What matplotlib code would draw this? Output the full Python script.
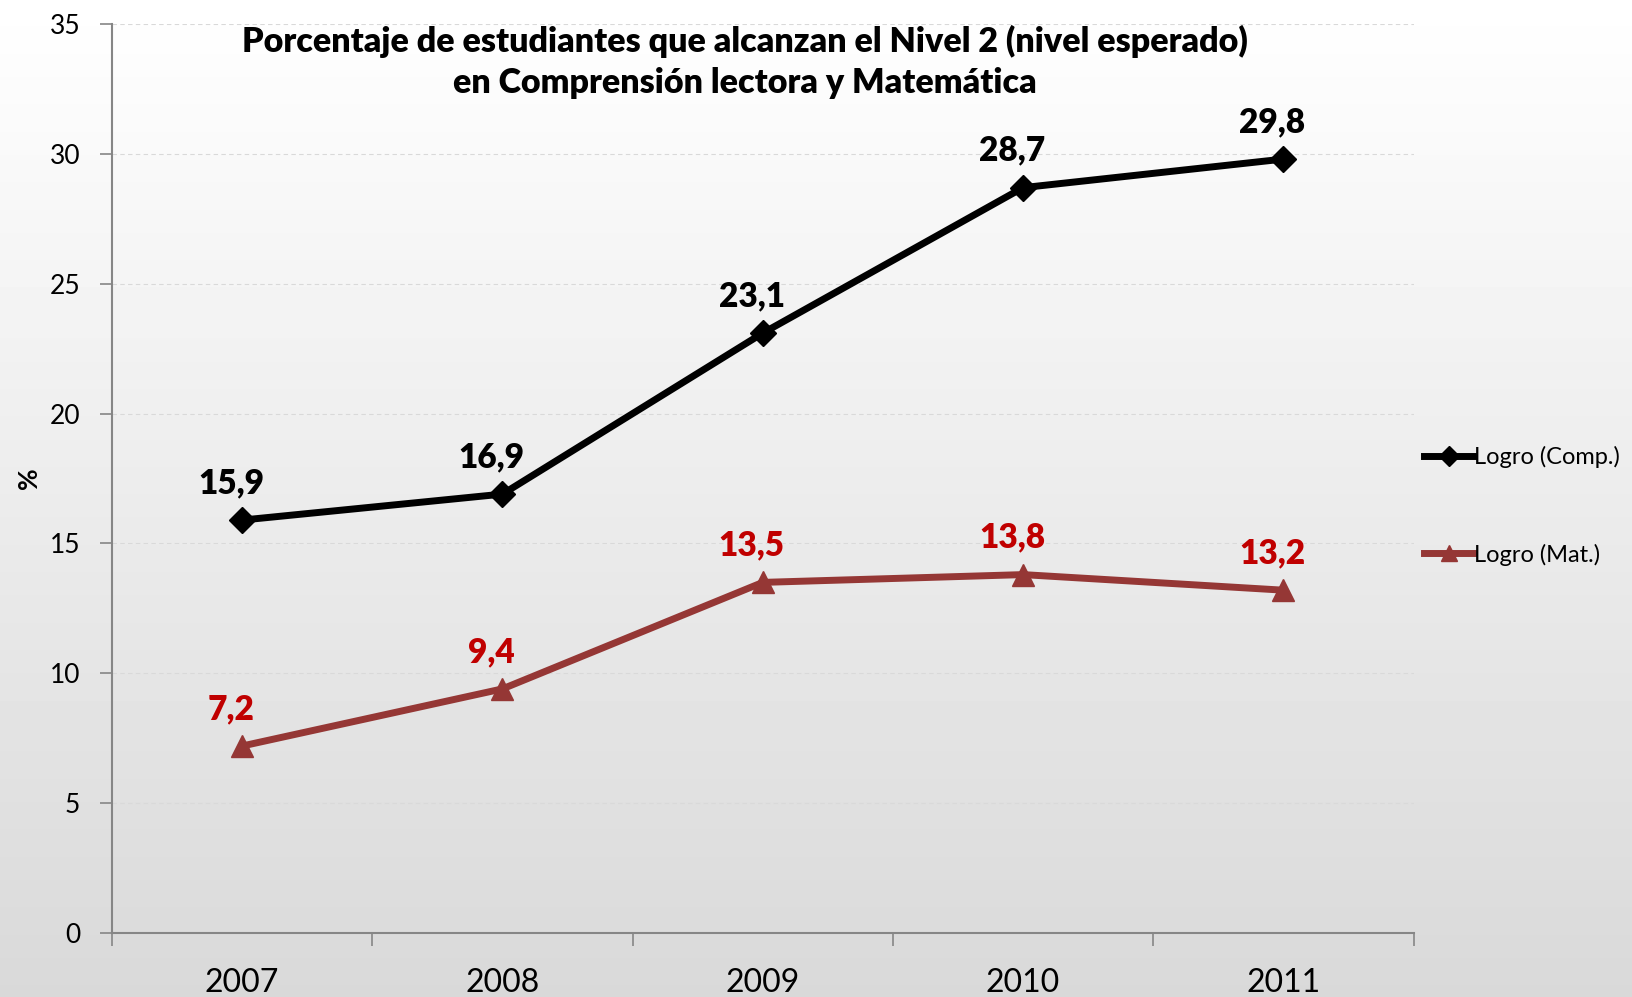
import numpy as np
import matplotlib.pyplot as plt
from matplotlib.ticker import FixedLocator

years = ['2007', '2008', '2009', '2010', '2011']
comp = [15.9, 16.9, 23.1, 28.7, 29.8]
mat = [7.2, 9.4, 13.5, 13.8, 13.2]
yticks = [0, 5, 10, 15, 20, 25, 30, 35]

plt.rcParams['font.family'] = ['Lato', 'DejaVu Sans']

fig = plt.figure(figsize=(16.33, 9.97), dpi=100)

# background gradient white -> light gray
bg = fig.add_axes([0, 0, 1, 1], zorder=-10)
grad = np.linspace(1.0, 0.85, 256).reshape(-1, 1)
bg.imshow(grad, aspect='auto', cmap='gray', vmin=0, vmax=1, extent=[0, 1, 0, 1])
bg.axis('off')

ax = fig.add_axes([0.0686, 0.0642, 0.797, 0.9117])
ax.patch.set_alpha(0)

x = np.arange(len(years))
ax.plot(x, comp, color='black', lw=5, marker='D', ms=13, label='Logro (Comp.)')
ax.plot(x, mat, color='#953735', lw=5, marker='^', ms=16, label='Logro (Mat.)')

for i, v in enumerate(comp):
    ax.annotate(f'{v:.1f}'.replace('.', ','), (x[i], v), xytext=(-8, 15),
                textcoords='offset points', ha='center', va='bottom',
                fontsize=24, fontweight='heavy', color='black')
for i, v in enumerate(mat):
    ax.annotate(f'{v:.1f}'.replace('.', ','), (x[i], v), xytext=(-8, 15),
                textcoords='offset points', ha='center', va='bottom',
                fontsize=24, fontweight='heavy', color='#C00000')

ax.set_xlim(-0.5, 4.5)
ax.set_ylim(0, 35)
ax.set_yticks(yticks)
ax.set_xticks(x)
ax.set_xticklabels(years, fontsize=23)
ax.xaxis.set_minor_locator(FixedLocator(np.arange(-0.5, 5, 1)))
ax.tick_params(axis='x', which='major', length=0, pad=25)
ax.tick_params(axis='x', which='minor', length=9, width=1.2, color='#868686', direction='out')
ax.tick_params(axis='y', length=9, width=1.2, color='#868686', labelsize=19, pad=14)

ax.grid(axis='y', color='#d9d9d9', lw=0.8, ls=(0, (4, 3)))
ax.set_axisbelow(True)
for s in ['top', 'right']:
    ax.spines[s].set_visible(False)
for s in ['left', 'bottom']:
    ax.spines[s].set_color('#868686')
    ax.spines[s].set_linewidth(1.5)

ax.set_ylabel('%', fontsize=19, fontweight='bold', labelpad=6)

ax.set_title('Porcentaje de estudiantes que alcanzan el Nivel 2 (nivel esperado)\n'
             'en Comprensión lectora y Matemática',
             fontsize=24.5, fontweight='heavy', x=0.486, y=0.915, linespacing=1.35)

ax.legend(loc='center left', bbox_to_anchor=(0.992, 0.47), frameon=False,
          fontsize=17, handlelength=2.1, handletextpad=0.0, labelspacing=3.2,
          markerscale=0.75)

fig.savefig('out.png', dpi=100)
